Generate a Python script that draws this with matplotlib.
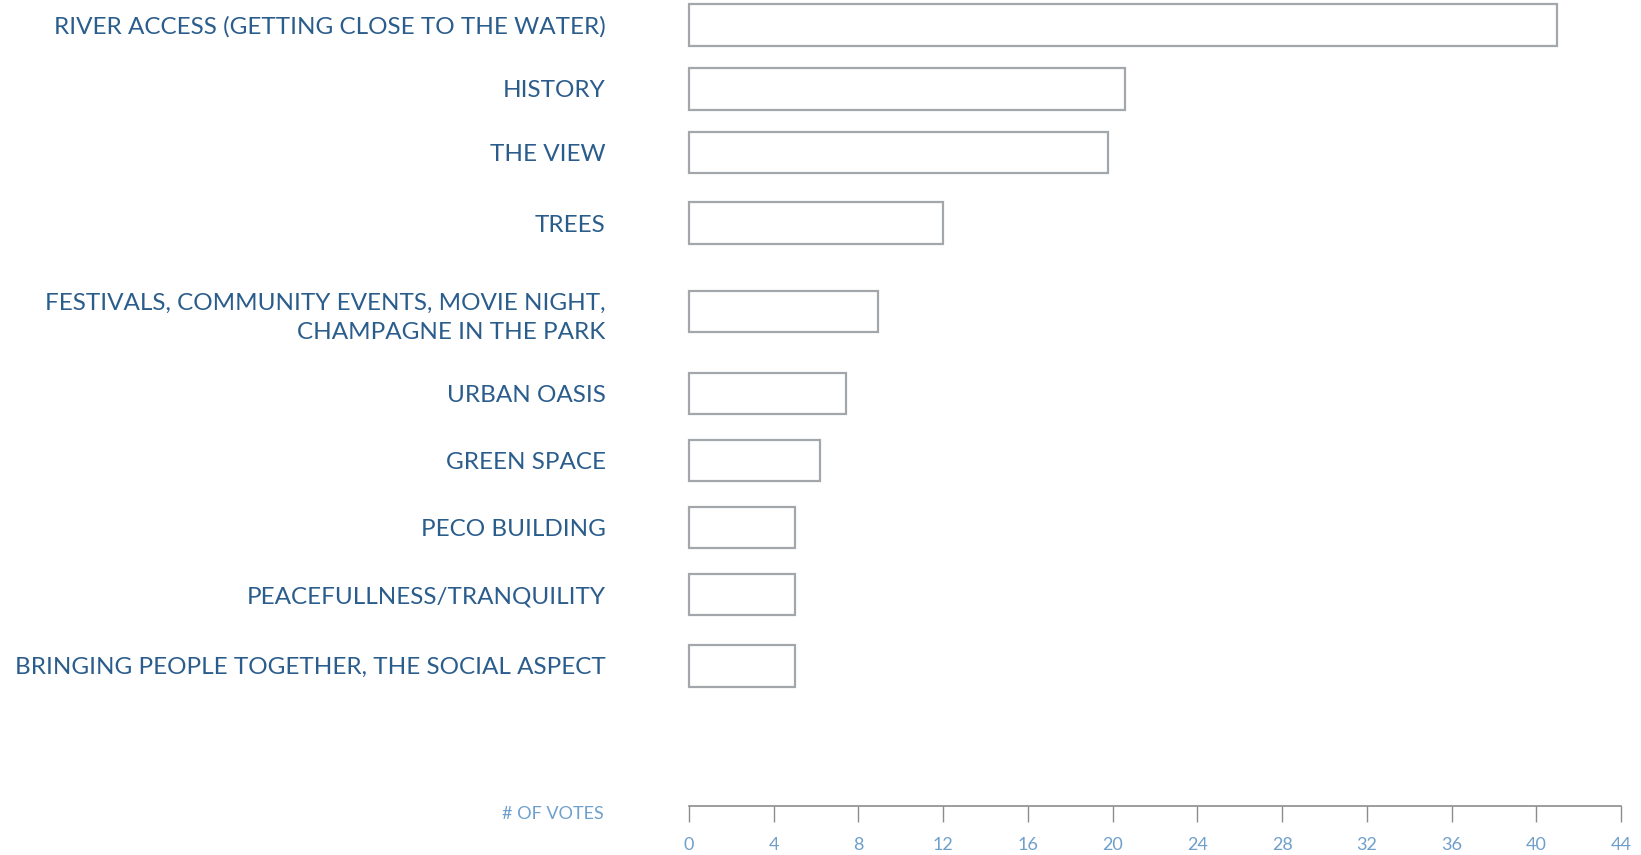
import numpy as np
import matplotlib.pyplot as plt

plt.rcParams['font.family'] = ['Lato', 'DejaVu Sans']

categories = ['RIVER ACCESS (GETTING CLOSE TO THE WATER)',
              'HISTORY',
              'THE VIEW',
              'TREES',
              'FESTIVALS, COMMUNITY EVENTS, MOVIE NIGHT,\nCHAMPAGNE IN THE PARK',
              'URBAN OASIS',
              'GREEN SPACE',
              'PECO BUILDING',
              'PEACEFULLNESS/TRANQUILITY',
              'BRINGING PEOPLE TOGETHER, THE SOCIAL ASPECT']
votes = [41, 20.6, 19.8, 12, 8.9, 7.4, 6.2, 5, 5, 5]
xticks = list(range(0, 45, 4))

label_col = '#2b5d8c'
num_col = '#6f9fcb'
line_col = '#8c8c8c'

# row spacing: the two-line label gets a bit more room around it
gaps = [0, 0.95, 0.95, 1.05, 1.32, 1.22, 1.0, 1.0, 1.0, 1.06]
pos = np.cumsum(gaps)

fig = plt.figure(figsize=(16.41, 8.55), dpi=100)
ax = fig.add_axes([689/1641, 49/855, (1621-689)/1641, 806/855])

ax.barh(pos, votes, height=0.62, color='white', edgecolor='#a3a6aa',
        linewidth=1.6, clip_on=False)

ax.set_xlim(0, 44)
ax.set_ylim(pos[-1] + 2.09, -0.375)
ax.set_xticks(xticks)
ax.set_xticklabels([str(t) for t in xticks], fontsize=13, color=num_col)
ax.set_yticks(pos)
ax.set_yticklabels(categories, fontsize=17.5, color=label_col, linespacing=1.5)

ax.tick_params(axis='y', length=0, pad=60)
ax.tick_params(axis='x', direction='out', length=11.5, width=1,
               color=line_col, pad=11)
for s in ['top', 'right', 'left']:
    ax.spines[s].set_visible(False)
ax.spines['bottom'].set_color(line_col)
ax.spines['bottom'].set_linewidth(1.2)

fig.text(604/1641, 1 - 814/855, '# OF VOTES', ha='right', va='center',
         fontsize=13, color=num_col)

plt.savefig('out.png', dpi=100)
